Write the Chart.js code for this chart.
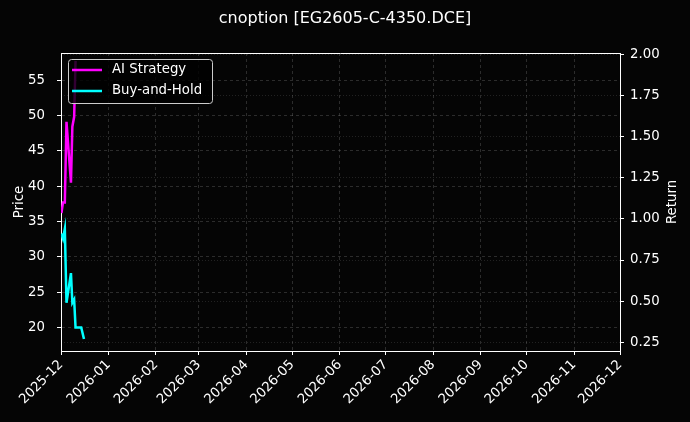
<!DOCTYPE html>
<html>
<head>
<meta charset="utf-8">
<script src="https://cdn.jsdelivr.net/npm/chart.js@4.4.1/dist/chart.umd.min.js"></script>
<style>
html,body{margin:0;padding:0;background:#050505;}
#wrap{width:690px;height:422px;position:relative;}
</style>
</head>
<body>
<div id="wrap"><canvas id="c"></canvas></div>
<script>
const titleText = 'cnoption [EG2605-C-4350.DCE]';
const monthTicks = ['2025-12','2026-01','2026-02','2026-03','2026-04','2026-05','2026-06','2026-07','2026-08','2026-09','2026-10','2026-11','2026-12'];
const priceTicks = [20, 25, 30, 35, 40, 45, 50, 55];
const returnTicks = [0.25, 0.50, 0.75, 1.00, 1.25, 1.50, 1.75, 2.00];
const dates = ['2025-12-01 07:00','2025-12-02 07:00','2025-12-03 12:00','2025-12-04 14:00','2025-12-07 12:00','2025-12-08 10:00','2025-12-09 14:00','2025-12-10 12:00','2025-12-14 05:00','2025-12-16 00:00'];
const aiStrategy = [1.035, 1.10, 1.10, 1.59, 1.22, 1.56, 1.62, 1.96];
const buyHold = [0.91, 0.88, 0.94, 0.49, 0.67, 0.49, 0.51, 0.34, 0.34, 0.27];
const seriesLabels = ['AI Strategy', 'Buy-and-Hold'];
const seriesColors = ['#ff00ff', '#00ffff'];

const FONT = 'DejaVu Sans';
const origin = monthTicks[0] + '-01';
function toDays(s){
  const parts = s.split(' ');
  const [Y,M,D] = parts[0].split('-').map(Number);
  const [h,m] = (parts[1] || '0:0').split(':').map(Number);
  const [oY,oM,oD] = origin.split('-').map(Number);
  return (Date.UTC(Y,M-1,D,h,m) - Date.UTC(oY,oM-1,oD)) / 86400000;
}
const monthDays = monthTicks.map(m => toDays(m + '-01'));
function pts(vals){ return vals.map((v,i) => ({x: toDays(dates[i]), y: v})); }

const frameAndLabels = {
  id: 'frameAndLabels',
  afterDraw(chart){
    const {ctx, chartArea: a} = chart;
    ctx.save();
    ctx.strokeStyle = '#ffffff';
    ctx.lineWidth = 1;
    ctx.beginPath();
    ctx.moveTo(a.left, a.top + 0.5);
    ctx.lineTo(a.right, a.top + 0.5);
    ctx.stroke();
    ctx.fillStyle = '#ffffff';
    ctx.font = '13.3px "' + FONT + '"';
    ctx.textAlign = 'center';
    ctx.textBaseline = 'middle';
    ctx.translate(672.5, (a.top + a.bottom) / 2);
    ctx.rotate(-Math.PI / 2);
    ctx.fillText('Return', 0, 0);
    ctx.restore();
    ctx.save();
    const bx = 68.5, by = 59.5, bw = 144, bh = 44, r = 3;
    ctx.beginPath();
    ctx.moveTo(bx + r, by);
    ctx.lineTo(bx + bw - r, by);
    ctx.arcTo(bx + bw, by, bx + bw, by + r, r);
    ctx.lineTo(bx + bw, by + bh - r);
    ctx.arcTo(bx + bw, by + bh, bx + bw - r, by + bh, r);
    ctx.lineTo(bx + r, by + bh);
    ctx.arcTo(bx, by + bh, bx, by + bh - r, r);
    ctx.lineTo(bx, by + r);
    ctx.arcTo(bx, by, bx + r, by, r);
    ctx.closePath();
    ctx.fillStyle = 'rgba(0,0,0,0.8)';
    ctx.fill();
    ctx.strokeStyle = '#cccccc';
    ctx.lineWidth = 1;
    ctx.stroke();
    ctx.font = '13.3px "' + FONT + '"';
    ctx.textAlign = 'left';
    ctx.textBaseline = 'middle';
    chart.data.datasets.forEach((ds, i) => {
      const y = 70 + i * 21;
      ctx.strokeStyle = ds.borderColor;
      ctx.lineWidth = 2.5;
      ctx.beginPath();
      ctx.moveTo(72, y);
      ctx.lineTo(102, y);
      ctx.stroke();
      ctx.fillStyle = '#ffffff';
      ctx.fillText(ds.label, 112, y);
    });
    ctx.restore();
  }
};

new Chart(document.getElementById('c'), {
  type: 'line',
  data: {
    datasets: [
      {label: seriesLabels[0], data: pts(aiStrategy), borderColor: seriesColors[0], backgroundColor: seriesColors[0], yAxisID: 'ret', borderWidth: 2.5, pointRadius: 0, tension: 0},
      {label: seriesLabels[1], data: pts(buyHold), borderColor: seriesColors[1], backgroundColor: seriesColors[1], yAxisID: 'ret', borderWidth: 2.5, pointRadius: 0, tension: 0}
    ]
  },
  options: {
    responsive: true,
    maintainAspectRatio: false,
    animation: false,
    layout: {padding: 0},
    plugins: {
      legend: {display: false},
      tooltip: {enabled: false},
      title: {display: true, text: titleText, color: '#ffffff', font: {family: FONT, size: 16, weight: 'normal'}, padding: {top: 9, bottom: 24.8}}
    },
    scales: {
      x: {
        type: 'linear',
        min: monthDays[0],
        max: monthDays[monthDays.length - 1],
        afterBuildTicks(s){ s.ticks = monthDays.map(v => ({value: v})); },
        afterFit(s){ s.height = 71; },
        ticks: {color: '#ffffff', autoSkip: false, minRotation: 45, maxRotation: 45, padding: 2, font: {family: FONT, size: 13.3},
          callback(v, i){ return monthTicks[i]; }},
        grid: {color: 'rgba(150,150,150,0.35)', lineWidth: 0.8, tickColor: '#ffffff', tickLength: 4, tickWidth: 1},
        border: {display: true, color: '#ffffff', width: 1, dash: [3, 3]}
      },
      price: {
        type: 'linear',
        position: 'left',
        display: true,
        min: 16.65,
        max: 58.86,
        afterBuildTicks(s){ s.ticks = priceTicks.map(v => ({value: v})); },
        afterFit(s){ s.width = 61; },
        ticks: {color: '#ffffff', padding: 12, font: {family: FONT, size: 13.3}, callback(v){ return String(v); }},
        grid: {color: 'rgba(150,150,150,0.35)', lineWidth: 0.8, tickColor: '#ffffff', tickLength: 4, tickWidth: 1},
        border: {display: true, color: '#ffffff', width: 1, dash: [3, 3]},
        title: {display: true, text: 'Price', color: '#ffffff', font: {family: FONT, size: 13.3}, padding: {top: 12, bottom: 0}}
      },
      ret: {
        type: 'linear',
        position: 'right',
        min: 0.197,
        max: 2.008,
        afterBuildTicks(s){ s.ticks = returnTicks.map(v => ({value: v})); },
        afterFit(s){ s.width = 70; },
        ticks: {color: '#ffffff', padding: 6, font: {family: FONT, size: 13.3}, callback(v){ return v.toFixed(2); }},
        grid: {color: 'rgba(130,130,130,0.3)', lineWidth: 0.8, tickColor: '#ffffff', tickLength: 4, tickWidth: 1},
        border: {display: true, color: '#ffffff', width: 1, dash: [1, 2]}
      }
    }
  },
  plugins: [frameAndLabels]
});
</script>
</body>
</html>
